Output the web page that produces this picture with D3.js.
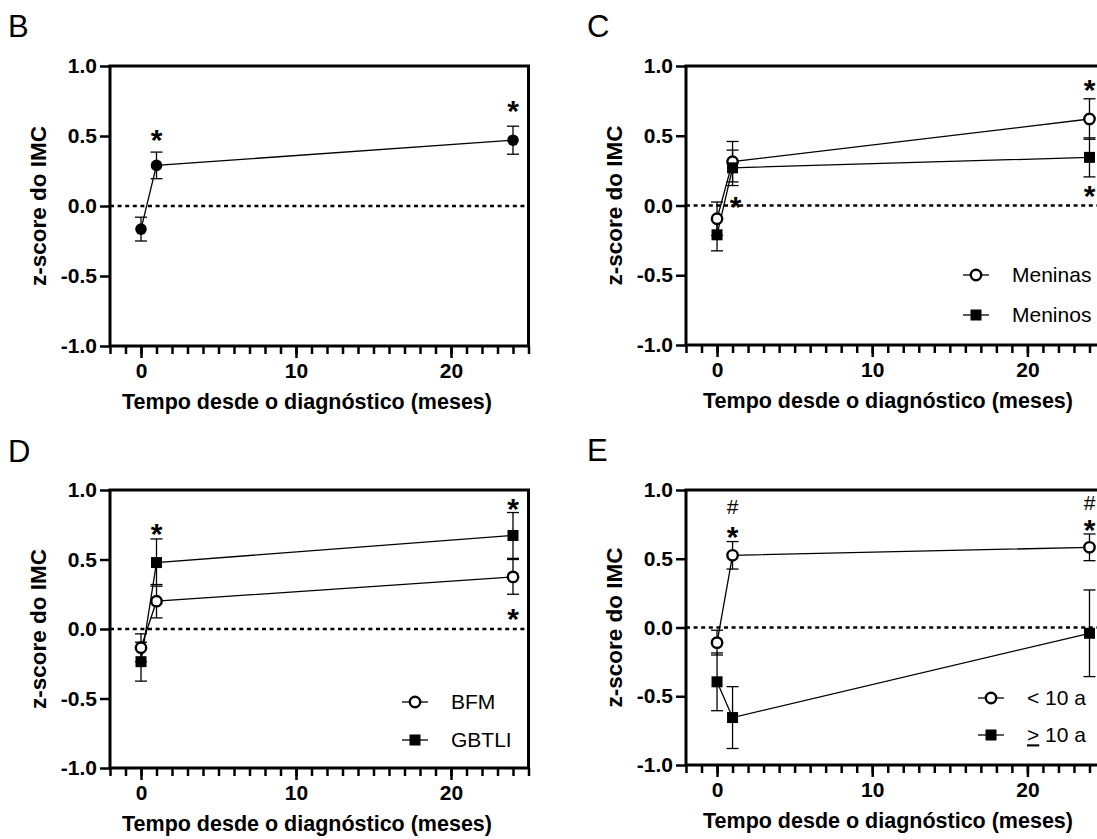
<!DOCTYPE html>
<html>
<head>
  <title>z-score do IMC</title>
  <script src="https://d3js.org/d3.v7.min.js"></script>
  <style>
    body { margin: 0; background: #fff; }
    svg { display: block; font-family: "Liberation Sans", Arial, sans-serif; }
    .tick text { font-size: 21px; font-weight: bold; fill: #000; }
    .tick line { stroke: #000; stroke-width: 2.5px; }
    .axis-title { font-size: 21.5px; font-weight: bold; }
    .y-title { font-size: 22.5px; }
    .panel-label { font-size: 31px; }
    .legend text { font-size: 21px; }
  </style>
</head>
<body>
  <svg id="chart"></svg>

  <script>
    // time points (months since diagnosis)
    const months = [0, 1, 24];
    const yTicks = [-1.0, -0.5, 0.0, 0.5, 1.0];
    const xMajorTicks = [0, 10, 20];

    // panel B - all patients
    const allMean = [-0.165, 0.29, 0.47];
    const allErr = [0.085, 0.095, 0.1];

    // panel C - sex
    const meninasMean = [-0.095, 0.314, 0.62];
    const meninasErr = [0.12, 0.145, 0.145];
    const meninosMean = [-0.21, 0.27, 0.345];
    const meninosErr = [0.115, 0.127, 0.14];

    // panel D - protocol
    const bfmMean = [-0.135, 0.2, 0.375];
    const bfmErr = [0.1, 0.12, 0.125];
    const gbtliMean = [-0.235, 0.478, 0.673];
    const gbtliErr = [0.14, 0.17, 0.165];

    // panel E - age group
    const menos10Mean = [-0.11, 0.525, 0.583];
    const menos10Err = [0.09, 0.1, 0.097];
    const mais10Mean = [-0.395, -0.655, -0.042];
    const mais10Err = [0.21, 0.225, 0.315];

    // significance marks [month, value, symbol]
    const marksB = [[1, 0.52, "*"], [24, 0.73, "*"]];
    const marksC = [[1.2, 0.04, "*"], [24, 0.875, "*"], [24, 0.12, "*"]];
    const marksD = [[1, 0.736, "*"], [24, 0.916, "*"], [24, 0.124, "*"]];
    const marksE = [[1, 0.877, "#"], [1, 0.712, "*"], [24, 0.906, "#"], [24, 0.76, "*"]];

    const width = 1097;
    const height = 839;

    const svg = d3.select("#chart")
      .attr("width", width)
      .attr("height", height);

    function drawPanel(p) {
      const x = d3.scaleLinear().domain([-2, 25]).range([p.left, p.right]);
      const y = d3.scaleLinear().domain([-1, 1]).range([p.bottom, p.top]);
      const g = svg.append("g");

      // panel letter
      g.append("text")
        .attr("class", "panel-label")
        .attr("x", p.labelX)
        .attr("y", p.labelY)
        .text(p.label);

      // dotted zero line
      g.append("line")
        .attr("x1", p.left).attr("x2", p.right)
        .attr("y1", y(0)).attr("y2", y(0))
        .attr("stroke", "#000")
        .attr("stroke-width", 2.5)
        .attr("stroke-dasharray", "4,3.6");

      // minor x ticks
      g.append("g")
        .attr("transform", `translate(0,${p.bottom})`)
        .call(d3.axisBottom(x).tickValues(d3.range(-2, 26)).tickSize(8).tickFormat(""))
        .call(a => a.select(".domain").remove());

      // major x ticks with labels
      g.append("g")
        .attr("transform", `translate(0,${p.bottom})`)
        .call(d3.axisBottom(x).tickValues(xMajorTicks).tickSize(12).tickPadding(5).tickFormat(d3.format("d")))
        .call(a => a.select(".domain").remove());

      // y axis
      g.append("g")
        .attr("transform", `translate(${p.left},0)`)
        .call(d3.axisLeft(y).tickValues(yTicks).tickSize(10).tickPadding(3).tickFormat(d => d.toFixed(1)))
        .call(a => a.select(".domain").remove());

      // frame
      g.append("rect")
        .attr("x", p.left).attr("y", p.top)
        .attr("width", p.right - p.left)
        .attr("height", p.bottom - p.top)
        .attr("fill", "none")
        .attr("stroke", "#000")
        .attr("stroke-width", 3);

      // axis titles
      g.append("text")
        .attr("class", "axis-title")
        .attr("text-anchor", "middle")
        .attr("x", p.xTitleX)
        .attr("y", p.bottom + 63)
        .text("Tempo desde o diagnóstico (meses)");

      g.append("text")
        .attr("class", "axis-title y-title")
        .attr("text-anchor", "middle")
        .attr("transform", `translate(${p.left - 72},${(p.top + p.bottom) / 2}) rotate(-90)`)
        .attr("dy", "0.35em")
        .text("z-score do IMC");

      const line = d3.line().x(d => x(d.t)).y(d => y(d.v));

      p.series.forEach(s => {
        const pts = months.map((t, i) => ({ t: t, v: s.mean[i], e: s.err[i] }));
        g.append("path")
          .datum(pts)
          .attr("d", line)
          .attr("fill", "none")
          .attr("stroke", "#000")
          .attr("stroke-width", 1.3);
        s.pts = pts;
      });

      // error bars
      p.series.forEach(s => {
        const eb = g.append("g").selectAll("g").data(s.pts).join("g")
          .attr("stroke", "#000").attr("stroke-width", 1.3);
        eb.append("line")
          .attr("x1", d => x(d.t)).attr("x2", d => x(d.t))
          .attr("y1", d => y(d.v - d.e)).attr("y2", d => y(d.v + d.e));
        eb.append("line")
          .attr("x1", d => x(d.t) - 6).attr("x2", d => x(d.t) + 6)
          .attr("y1", d => y(d.v + d.e)).attr("y2", d => y(d.v + d.e));
        eb.append("line")
          .attr("x1", d => x(d.t) - 6).attr("x2", d => x(d.t) + 6)
          .attr("y1", d => y(d.v - d.e)).attr("y2", d => y(d.v - d.e));
      });

      // markers
      p.series.forEach(s => {
        const mg = g.append("g");
        s.pts.forEach(d => drawMarker(mg, s.shape, x(d.t), y(d.v)));
      });

      // significance marks
      p.marks.forEach(m => {
        const isStar = m[2] === "*";
        g.append("text")
          .attr("x", x(m[0]))
          .attr("y", y(m[1]) + (isStar ? 17 : 7))
          .attr("text-anchor", "middle")
          .attr("font-size", isStar ? 30 : 21)
          .attr("font-weight", isStar ? "bold" : "normal")
          .text(m[2]);
      });

      // legend
      if (p.legend) {
        const lg = g.append("g").attr("class", "legend");
        p.series.forEach((s, i) => {
          const ly = p.legend.y + i * p.legend.gap;
          lg.append("line")
            .attr("x1", p.legend.x - 13).attr("x2", p.legend.x + 13)
            .attr("y1", ly).attr("y2", ly)
            .attr("stroke", "#000").attr("stroke-width", 1.3);
          drawMarker(lg, s.shape, p.legend.x, ly);
          const t = lg.append("text")
            .attr("x", p.legend.x + 36)
            .attr("y", ly)
            .attr("dy", "0.35em");
          if (s.name.startsWith(">")) {
            t.append("tspan").attr("text-decoration", "underline").text(">");
            t.append("tspan").text(s.name.slice(1));
          } else {
            t.text(s.name);
          }
        });
      }
    }

    function drawMarker(g, shape, cx, cy) {
      if (shape === "filledCircle") {
        g.append("circle").attr("cx", cx).attr("cy", cy).attr("r", 5.8).attr("fill", "#000");
      } else if (shape === "openCircle") {
        g.append("circle").attr("cx", cx).attr("cy", cy).attr("r", 5.2)
          .attr("fill", "#fff").attr("stroke", "#000").attr("stroke-width", 2.4);
      } else {
        g.append("rect").attr("x", cx - 5.5).attr("y", cy - 5.5)
          .attr("width", 11).attr("height", 11).attr("fill", "#000");
      }
    }

    drawPanel({
      label: "B", labelX: 8, labelY: 37,
      left: 110, right: 528.5, top: 66, bottom: 346, xTitleX: 307,
      series: [{ name: "", mean: allMean, err: allErr, shape: "filledCircle" }],
      marks: marksB
    });

    drawPanel({
      label: "C", labelX: 587, labelY: 37,
      left: 686, right: 1105, top: 66, bottom: 345, xTitleX: 888,
      series: [
        { name: "Meninas", mean: meninasMean, err: meninasErr, shape: "openCircle" },
        { name: "Meninos", mean: meninosMean, err: meninosErr, shape: "square" }
      ],
      marks: marksC,
      legend: { x: 976, y: 275, gap: 40 }
    });

    drawPanel({
      label: "D", labelX: 8, labelY: 462,
      left: 110, right: 528.5, top: 490, bottom: 768, xTitleX: 307,
      series: [
        { name: "BFM", mean: bfmMean, err: bfmErr, shape: "openCircle" },
        { name: "GBTLI", mean: gbtliMean, err: gbtliErr, shape: "square" }
      ],
      marks: marksD,
      legend: { x: 415, y: 702, gap: 38 }
    });

    drawPanel({
      label: "E", labelX: 587, labelY: 461,
      left: 686, right: 1105, top: 490, bottom: 765, xTitleX: 888,
      series: [
        { name: "< 10 a", mean: menos10Mean, err: menos10Err, shape: "openCircle" },
        { name: "> 10 a", mean: mais10Mean, err: mais10Err, shape: "square" }
      ],
      marks: marksE,
      legend: { x: 991, y: 698, gap: 37 }
    });
  </script>
</body>
</html>
